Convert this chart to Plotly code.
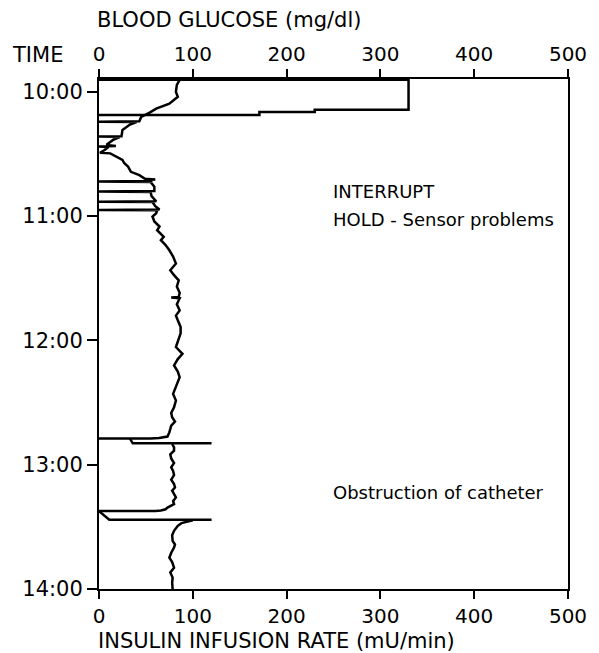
import plotly.graph_objects as go

# ---- data (time in minutes after 10:00) ----
glucose_time = [-5.8, -3.4, 0, 2.4, 5.7, 8.1, 10.0, 12.1, 14.2, 14.4, 14.6, 15.8, 18.4, 21.4, 21.6, 21.8,
                23.2, 25.6, 26.2, 26.4, 26.6, 28.1, 29.4, 29.7, 31.3, 32.9, 34.5, 36.1, 38.6, 40.2, 42.0,
                42.3, 42.6, 43.1, 43.3, 43.5, 45.8, 47.9, 48.1, 48.3, 50.3, 52.8, 53.0, 53.2, 55.2, 56.8,
                57.0, 57.2, 58.6, 60.2, 62.6, 65.0, 66.8, 68.4, 70.0, 71.6, 74.0, 76.5, 79.5, 82.9, 86.1,
                88.5, 91.0, 94.0, 97.0, 99.0, 99.3, 99.6, 102.5, 105.5, 108.0, 110.3, 113.5, 116.6, 120.0,
                123.2, 126.5, 129.0, 132.1, 135.0, 137.8, 141.5, 145.8, 149.0, 152.3, 155.0, 157.1, 159.2,
                161.1, 164.4, 166.4, 167.1, 167.3, 167.35,
                None,
                170.0, 171.6, 173.2, 175.0, 177.0, 179.2, 181.3, 183.0, 185.0, 187.2, 189.3, 191.0, 192.5,
                194.2, 195.8, 197.5, 199.0, 200.7, 201.5, 202.1, 202.3, 202.35,
                None,
                206.8, 207.2, 208.2, 209.5, 211.9, 214.0, 216.8, 218.5, 220.0, 222.5, 224.9, 227.0, 229.7,
                232.0, 234.5, 237.0, 240.0]
glucose_value = [86, 83, 82, 84, 75, 61, 54, 45, 43, 0, 40, 33, 25, 24, 0, 22,
                 15, 8, 18, 0, 10, 6, 1, 12, 19, 25, 27, 31, 34, 43, 49,
                 60, 50, 57, 0, 55, 59, 59, 0, 55, 56, 61, 0, 57, 60, 64.5,
                 0, 62, 61, 57, 59, 64.5, 62, 66, 69, 66, 71, 75, 79, 82, 76,
                 80, 85, 83, 86, 85, 77, 86, 83, 86, 82, 84, 87, 87, 84,
                 82, 89, 84, 80, 84, 86, 83, 79, 82, 80, 77, 78, 81,
                 77, 75, 73, 64, 55, 0,
                 None,
                 78, 80, 80, 76, 77, 80, 77, 79, 80, 77, 80, 81, 78,
                 80, 82, 79, 80, 73, 71, 66, 60, 0,
                 None,
                 100, 96, 88, 84, 80, 78, 78.5, 81, 80, 77, 75, 78, 80,
                 76, 78.5, 78, 78.5]

insulin_time = [-5.8, -5.8, 8.6, 8.6, 9.7, 9.7, 11.2, 11.2, None, 167.4, 169.7, 169.7, None, 202.4, 206.6, 206.6]
insulin_rate = [0, 330, 330, 230, 230, 171, 171, 0, None, 33, 36, 120, None, 0, 11, 120]

time_ticks = [0, 60, 120, 180, 240]
time_labels = ["10:00", "11:00", "12:00", "13:00", "14:00"]
value_ticks = [0, 100, 200, 300, 400, 500]

FONT = "DejaVu Sans"

fig = go.Figure()
fig.add_trace(go.Scatter(x=glucose_value, y=glucose_time, xaxis="x2", yaxis="y", mode="lines",
                         line=dict(color="black", width=2.5), connectgaps=False, hoverinfo="skip"))
fig.add_trace(go.Scatter(x=insulin_rate, y=insulin_time, xaxis="x", yaxis="y", mode="lines",
                         line=dict(color="black", width=2.5), connectgaps=False, hoverinfo="skip"))

axis_common = dict(range=[0, 500], tickvals=value_ticks, ticks="outside", ticklen=8, tickwidth=2,
                   tickcolor="black", showline=True, linewidth=2, linecolor="black", showgrid=False,
                   zeroline=False, tickfont=dict(family=FONT, size=20, color="black"))

fig.update_layout(
    width=591, height=645,
    margin=dict(l=91, r=27, t=71, b=64),
    paper_bgcolor="white", plot_bgcolor="white",
    showlegend=False,
    font=dict(family=FONT, color="black"),
    xaxis=dict(side="bottom", **axis_common),
    xaxis2=dict(side="top", overlaying="x", **axis_common),
    yaxis=dict(range=[240, -6.2], tickvals=time_ticks, ticktext=time_labels, ticks="outside",
               ticklen=10, tickwidth=2, tickcolor="black", showline=True, linewidth=2,
               linecolor="black", mirror=True, showgrid=False, zeroline=False,
               tickfont=dict(family=FONT, size=21, color="black")),
    annotations=[
        dict(text="TIME", xref="paper", yref="paper", x=-0.131, y=1.047, xanchor="center",
             yanchor="middle", showarrow=False, font=dict(size=21)),
        dict(text="BLOOD GLUCOSE (mg/dl)", xref="paper", yref="paper", x=-0.008, y=1.116,
             xanchor="left", yanchor="middle", showarrow=False, font=dict(size=21)),
        dict(text="INSULIN INFUSION RATE (mU/min)", xref="paper", yref="paper", x=-0.006, y=-0.102,
             xanchor="left", yanchor="middle", showarrow=False, font=dict(size=21)),
        dict(text="INTERRUPT", xref="x", yref="y", x=247, y=48.3, xanchor="left",
             yanchor="middle", showarrow=False, font=dict(size=18)),
        dict(text="HOLD - Sensor problems", xref="x", yref="y", x=247, y=61.8, xanchor="left",
             yanchor="middle", showarrow=False, font=dict(size=18)),
        dict(text="Obstruction of catheter", xref="x", yref="y", x=247, y=193.2, xanchor="left",
             yanchor="middle", showarrow=False, font=dict(size=18)),
    ],
)

fig.write_html("out.html")
